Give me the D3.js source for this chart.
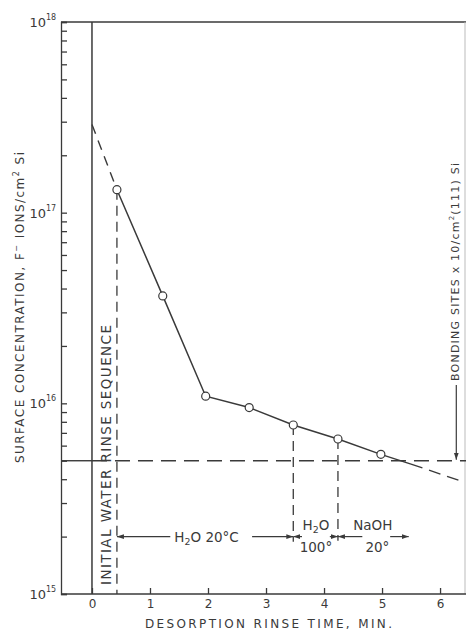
<!DOCTYPE html>
<html><head><meta charset="utf-8">
<script src="https://cdn.jsdelivr.net/npm/d3@7"></script>
<style>
body{margin:0;background:#fff}
svg{display:block}
text{font-family:"DejaVu Sans",sans-serif;fill:#3a3a3a}
</style>
</head><body>
<svg id="chart" width="466" height="634"></svg>
<script>
// Measured fluoride surface concentration after each rinse step
const rinseTimes = [0.43, 1.22, 1.96, 2.71, 3.47, 4.24, 4.98];
const concentrations = [1.32e17, 3.66e16, 1.09e16, 9.5e15, 7.7e15, 6.5e15, 5.4e15];
// Extrapolation back to t = 0
const leadTimes = [0, 0.43];
const leadConc = [2.9e17, 1.32e17];
// Continuation past the last measurement
const tailSolidTimes = [4.98, 5.5];
const tailSolidConc = [5.4e15, 4.8e15];
const tailDashTimes = [5.5, 6.43];
const tailDashConc = [4.8e15, 3.85e15];
// Bonding-site reference level
const bondingSites = 5e15;
// Rinse-stage boundaries and annotation level
const stageBounds = [0.43, 3.47, 4.24];
const stageLevel = 2e15;
const xTicks = [0, 1, 2, 3, 4, 5, 6];
const yDecades = [15, 16, 17, 18];

const ink = "#3a3a3a";
const svg = d3.select("#chart");
const x = d3.scaleLinear().domain([-0.534, 6.43]).range([61, 465]);
const y = d3.scaleLog().domain([1e15, 1e18]).range([594, 22]);

// arrowheads
const defs = svg.append("defs");
defs.append("marker").attr("id", "head").attr("viewBox", "0 0 10 10")
  .attr("refX", 10).attr("refY", 5).attr("markerWidth", 7).attr("markerHeight", 7)
  .attr("markerUnits", "userSpaceOnUse").attr("orient", "auto")
  .append("path").attr("d", "M0,1.5L10,5L0,8.5Z").attr("fill", ink);

// frame
svg.append("line").attr("x1", x.range()[0]).attr("x2", 466).attr("y1", y(1e18)).attr("y2", y(1e18))
  .attr("stroke", ink).attr("stroke-width", 1.3);
svg.append("line").attr("x1", 465).attr("x2", 465).attr("y1", y(1e18)).attr("y2", y(1e15))
  .attr("stroke", "#bbb").attr("stroke-width", 1);

// left axis with minor log ticks
const yTickVals = [];
[15, 16, 17].forEach(d => { for (let m = 1; m <= 9; m++) yTickVals.push(m * Math.pow(10, d)); });
yTickVals.push(1e18);
const yAxis = svg.append("g").attr("transform", `translate(${x.range()[0]},0)`)
  .call(d3.axisLeft(y).tickValues(yTickVals).tickSize(-6).tickFormat(""));
yAxis.selectAll("path,line").attr("stroke", ink).attr("stroke-width", 1.3);

// decade labels
yDecades.forEach(d => {
  svg.append("text").attr("x", 46).attr("y", y(Math.pow(10, d)) + 5)
    .attr("text-anchor", "end").attr("font-size", 13).text("10");
  svg.append("text").attr("x", 46).attr("y", y(Math.pow(10, d)) - 2)
    .attr("font-size", 8).text(String(d));
});

// bottom axis
const xAxis = svg.append("g").attr("transform", `translate(0,${y(1e15)})`)
  .call(d3.axisBottom(x).tickValues(xTicks).tickSize(-6).tickPadding(5).tickFormat(d3.format("d")));
xAxis.select(".domain").attr("d", `M${x.range()[0]},0H466`);
xAxis.selectAll("path,line").attr("stroke", ink).attr("stroke-width", 1.3);
xAxis.selectAll("text").attr("font-size", 12).attr("fill", ink)
  .style("font-family", '"DejaVu Sans",sans-serif');

// start-of-sequence vertical line at t = 0
svg.append("line").attr("x1", x(0)).attr("x2", x(0)).attr("y1", y(1e18)).attr("y2", y(1e15))
  .attr("stroke", ink).attr("stroke-width", 1.5);

// bonding-site level: solid up to t = 0, dashed after
svg.append("line").attr("x1", x.range()[0]).attr("x2", x(0))
  .attr("y1", y(bondingSites)).attr("y2", y(bondingSites)).attr("stroke", ink).attr("stroke-width", 1.4);
svg.append("line").attr("x1", x(0)).attr("x2", 466)
  .attr("y1", y(bondingSites)).attr("y2", y(bondingSites))
  .attr("stroke", ink).attr("stroke-width", 1.4).attr("stroke-dasharray", "15,8");

// stage boundaries (dashed verticals)
const stageBottoms = [1e15, 1.88e15, 1.9e15];
stageBounds.forEach((t, i) => {
  const c = concentrations[rinseTimes.indexOf(t)];
  svg.append("line").attr("x1", x(t)).attr("x2", x(t))
    .attr("y1", y(c)).attr("y2", y(stageBottoms[i]))
    .attr("stroke", ink).attr("stroke-width", 1.3).attr("stroke-dasharray", "10,6");
});

const line = d3.line().x(d => x(d[0])).y(d => y(d[1]));
const zip = (a, b) => a.map((v, i) => [v, b[i]]);

svg.append("path").attr("d", line(zip(leadTimes, leadConc)))
  .attr("fill", "none").attr("stroke", ink).attr("stroke-width", 1.4).attr("stroke-dasharray", "10,7");
svg.append("path").attr("d", line(zip(rinseTimes, concentrations)))
  .attr("fill", "none").attr("stroke", ink).attr("stroke-width", 1.5);
svg.append("path").attr("d", line(zip(tailSolidTimes, tailSolidConc)))
  .attr("fill", "none").attr("stroke", ink).attr("stroke-width", 1.5);
svg.append("path").attr("d", line(zip(tailDashTimes, tailDashConc)))
  .attr("fill", "none").attr("stroke", ink).attr("stroke-width", 1.4).attr("stroke-dasharray", "12,7");

svg.selectAll("circle.pt").data(zip(rinseTimes, concentrations)).join("circle")
  .attr("class", "pt").attr("cx", d => x(d[0])).attr("cy", d => y(d[1])).attr("r", 4)
  .attr("fill", "#fff").attr("stroke", ink).attr("stroke-width", 1.2);

// rinse-stage arrows
const ay = y(stageLevel);
const arrow = (t0, t1) => svg.append("line").attr("x1", x(t0)).attr("x2", x(t1))
  .attr("y1", ay).attr("y2", ay).attr("stroke", ink).attr("stroke-width", 1.2)
  .attr("marker-end", "url(#head)");
arrow(1.35, 0.43);
arrow(2.76, 3.47);
arrow(3.62, 3.47);
arrow(4.10, 4.24);
arrow(4.66, 4.24);
arrow(5.14, 5.46);

const label = (t, yy, parts, size, anchor) => {
  const tx = svg.append("text").attr("x", x(t)).attr("y", yy).attr("font-size", size)
    .attr("text-anchor", anchor || "middle");
  parts.forEach(p => {
    const s = tx.append("tspan").text(p[0]);
    if (p[1] === "sub") s.attr("font-size", size * 0.7).attr("dy", 3);
    if (p[1] === "back") s.attr("dy", -3);
  });
  return tx;
};
label(1.42, ay + 5, [["H"], ["2", "sub"], ["O 20°C", "back"]], 13.5, "start");
label(3.86, ay - 7, [["H"], ["2", "sub"], ["O", "back"]], 13.5);
label(3.86, ay + 15, [["100°"]], 13.5);
label(4.84, ay - 7, [["NaOH"]], 13.5);
label(4.92, ay + 15, [["20°"]], 13.5);

// bonding-site callout
const bx = x(6.28);
svg.append("line").attr("x1", bx).attr("x2", bx).attr("y1", 385).attr("y2", y(bondingSites) - 1)
  .attr("stroke", ink).attr("stroke-width", 1.2).attr("marker-end", "url(#head)");
const bt = svg.append("text").attr("transform", `translate(${bx + 3},${381}) rotate(-90)`)
  .attr("font-size", 11).attr("textLength", 218).attr("lengthAdjust", "spacing");
bt.append("tspan").text("BONDING SITES x 10/cm");
bt.append("tspan").attr("font-size", 7).attr("dy", -5).text("2");
bt.append("tspan").attr("dy", 5).text("(111) Si");

// rotated stage caption
svg.append("text").attr("transform", `translate(${x(0) + 19},585) rotate(-90)`)
  .attr("font-size", 13.5).attr("textLength", 260).attr("lengthAdjust", "spacing")
  .text("INITIAL WATER RINSE SEQUENCE");

// axis titles
const yt = svg.append("text").attr("transform", "translate(24,463) rotate(-90)")
  .attr("font-size", 12).attr("textLength", 311).attr("lengthAdjust", "spacing");
yt.append("tspan").text("SURFACE CONCENTRATION, F");
yt.append("tspan").attr("font-size", 8).attr("dy", -5).text("−");
yt.append("tspan").attr("dy", 5).text(" IONS/cm");
yt.append("tspan").attr("font-size", 8).attr("dy", -5).text("2");
yt.append("tspan").attr("dy", 5).text(" Si");

svg.append("text").attr("x", 145).attr("y", 628).attr("font-size", 12)
  .attr("textLength", 247).attr("lengthAdjust", "spacing")
  .text("DESORPTION RINSE TIME, MIN.");
</script>
</body></html>
